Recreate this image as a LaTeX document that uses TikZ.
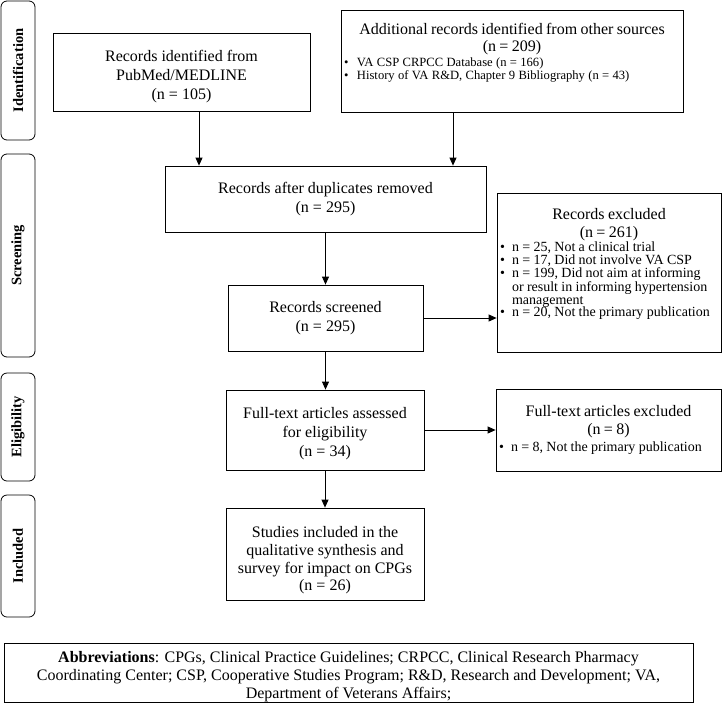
\documentclass[tikz,border=0pt]{standalone}
\usepackage{fontspec}
\setmainfont{Liberation Serif}
\usetikzlibrary{arrows.meta}
\newcommand{\bitem}[2][12pt]{\par\noindent\hangindent=#1\hangafter=1\makebox[#1][l]{\textbullet}#2}
\newcommand{\tailspace}[1]{\par\vspace{#1}\hrule height 0pt}
\newcommand{\topstrut}[1]{\rule{0pt}{#1}}
\begin{document}
\begin{tikzpicture}[x=1pt,y=-1pt,
  box/.style={draw=black, line width=0.8pt, rectangle, inner sep=0pt, font=\fontsize{16}{19}\selectfont},
  listbox/.style={draw=black, line width=0.8pt, rectangle, inner xsep=3pt, inner ysep=0pt},
  side/.style={draw=black, line width=0.8pt, rectangle, rounded corners=6pt, rotate=90, minimum height=34pt, inner sep=0pt, font=\fontsize{14.5}{18}\selectfont\bfseries},
  arr/.style={-{Triangle[length=8pt,width=7pt]}, line width=0.8pt},
]
\useasboundingbox (0,0) rectangle (722,702);

% phase labels
\node[side, minimum width=139pt] (L1) at (18,70.5) {Identification};
\node[side, minimum width=203pt] (L2) at (18,255.5) {Screening};
\node[side, minimum width=108pt] (L3) at (18,427) {Eligibility};
\node[side, minimum width=122pt] (L4) at (18,556) {Included};

% boxes
\node[box, minimum width=257pt, minimum height=78pt, align=center] (pub) at (181.5,72)
  {\topstrut{20pt}Records identified from\\PubMed/MEDLINE\\(n = 105)};

\node[listbox, minimum width=342pt, minimum height=102pt, text width=336pt] (add) at (512,61)
  {{\centering\fontsize{16}{17}\selectfont Additional records identified from other sources\\(n = 209)\par}
   \vspace{2pt}\fontsize{12.6}{11.2}\selectfont\raggedright
   \bitem[13pt]{VA CSP CRPCC Database (n = 166)}
   \bitem[13pt]{History of VA R\&D, Chapter 9 Bibliography (n = 43)}
   \tailspace{17pt}};

\node[box, minimum width=321pt, minimum height=66pt, align=center] (dup) at (325.5,199)
  {Records after duplicates removed\\(n = 295)};

\node[box, minimum width=195pt, minimum height=66pt, align=center] (scr) at (325.5,318)
  {Records screened\\(n = 295)};

\node[listbox, minimum width=224pt, minimum height=159pt, text width=218pt] (exc) at (609,272.5)
  {{\centering\fontsize{16}{18}\selectfont Records excluded\\(n = 261)\par}
   \vspace{0.5pt}\fontsize{14}{12.8}\selectfont\raggedright
   \bitem{n = 25, Not a clinical trial}
   \bitem{n = 17, Did not involve VA CSP}
   \bitem{n = 199, Did not aim at informing\newline or result in informing hypertension\newline management}
   \bitem{n = 20, Not the primary publication}
   \tailspace{17pt}};

\node[box, minimum width=198pt, minimum height=80pt, align=center] (full) at (325,430)
  {\topstrut{19pt}Full-text articles assessed\\for eligibility\\(n = 34)};

\node[listbox, minimum width=225pt, minimum height=82pt, text width=219pt] (fexc) at (608.5,430)
  {{\centering\fontsize{16}{18}\selectfont Full-text articles excluded\\(n = 8)\par}
   \vspace{3pt}\fontsize{14}{12.8}\selectfont\raggedright
   \bitem{n = 8, Not the primary publication}\par};

\node[box, minimum width=198pt, minimum height=92pt, align=center, font=\fontsize{16}{17.7}\selectfont] (inc) at (325,554)
  {\topstrut{24pt}Studies included in the\\qualitative synthesis and\\survey for impact on CPGs\\(n = 26)};

\node[box, minimum width=689pt, minimum height=56pt, align=center, font=\fontsize{16}{18}\selectfont] (abbr) at (348.5,673)
  {\topstrut{19pt}\textbf{Abbreviations}: CPGs, Clinical Practice Guidelines; CRPCC, Clinical Research Pharmacy\\
   Coordinating Center; CSP, Cooperative Studies Program; R\&D, Research and Development; VA,\\
   Department of Veterans Affairs;};

% connectors
\draw[arr] ([xshift=17.5pt]pub.south) -- ([xshift=17.5pt]pub.south |- dup.north);
\draw[arr] ([xshift=-59pt]add.south) -- ([xshift=-59pt]add.south |- dup.north);
\draw[arr] (dup.south) -- (dup.south |- scr.north);
\draw[arr] (scr.east) -- (scr.east -| exc.west);
\draw[arr] (scr.south) -- (scr.south |- full.north);
\draw[arr] (full.east) -- (full.east -| fexc.west);
\draw[arr] (full.south) -- (full.south |- inc.north);
\end{tikzpicture}
\end{document}
